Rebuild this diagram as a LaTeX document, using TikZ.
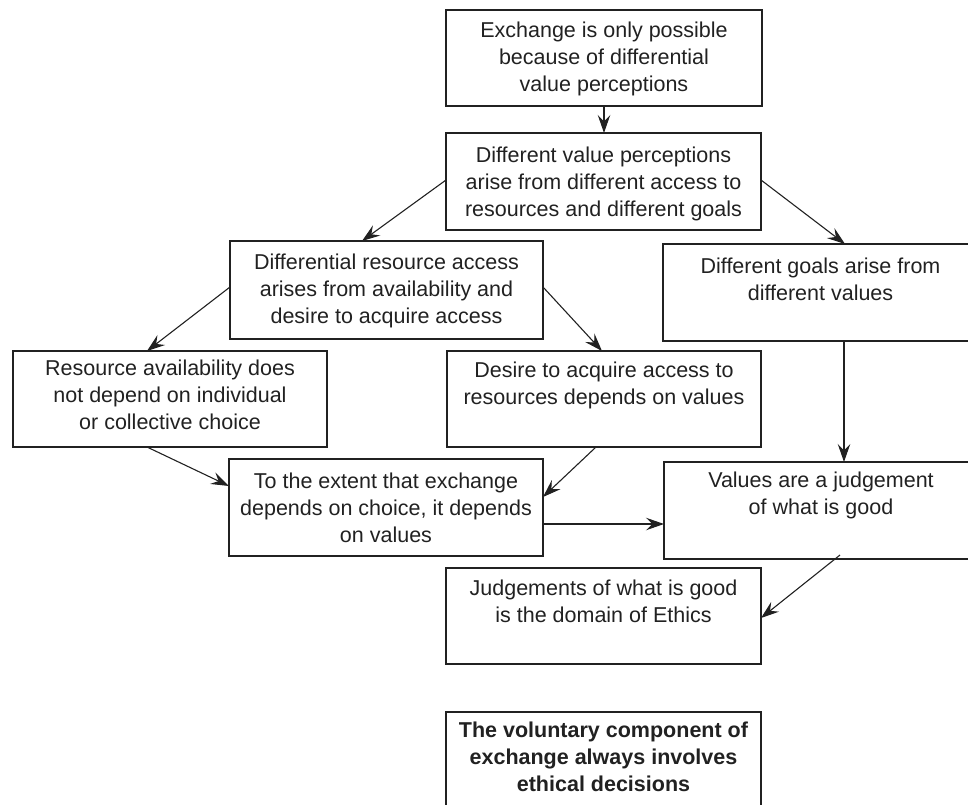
\documentclass[tikz,border=0pt]{standalone}
\usepackage{fontspec}
\setmainfont{Liberation Sans}
\usetikzlibrary{arrows.meta,calc}
\newcommand{\bxt}[4]{\parbox[c][#2pt][t]{#1pt}{\centering\rule{0pt}{#3pt}#4\par}}
\begin{document}
\begin{tikzpicture}[x=1pt,y=-1pt,
  box/.style={draw=black!87, text=black!87, line width=2.2pt, inner sep=0pt, outer sep=0pt},
  arr/.style={draw=black!87, line width=1.1pt, -{Stealth[length=18pt,width=12.5pt,inset=6.5pt]}},
  font=\fontsize{21.5pt}{27pt}\selectfont]
\clip (0,0) rectangle (968,804);
\node[box] (b1) at (604,58) {\bxt{316}{96}{27.5}{Exchange is only possible\\because of differential\\value perceptions}};
\node[box] (b2) at (603.5,181.5) {\bxt{315}{97}{29.5}{Different value perceptions\\arise from different access to\\resources and different goals}};
\node[box] (b3) at (386.5,290) {\bxt{313}{98}{28.5}{Differential resource access\\arises from availability and\\desire to acquire access}};
\node[box] (goals) at (820.5,292.5) {\bxt{315}{97}{29.5}{Different goals arise from\\different values}};
\node[box] (b4) at (170,399) {\bxt{314}{96}{24.5}{Resource availability does\\not depend on individual\\or collective choice}};
\node[box] (b5) at (604,399) {\bxt{314}{96}{26.5}{Desire to acquire access to\\resources depends on values}};
\node[box] (b6) at (386,507.5) {\bxt{314}{97}{29.5}{To the extent that exchange\\depends on choice, it depends\\on values}};
\node[box] (b7) at (821,510.5) {\bxt{314}{97}{25.5}{Values are a judgement\\of what is good}};
\node[box] (b8) at (603.5,616) {\bxt{315}{96}{27.5}{Judgements of what is good\\is the domain of Ethics}};
\node[box] (b9) at (603.5,760) {\bxt{315}{96}{25.5}{\bfseries The voluntary component of\\exchange always involves\\ethical decisions}};
\draw[arr] (b1.south) -- (b1.south |- b2.north);
\draw[arr] ($(b2.west)+(0,-1.5)$) -- ($(b3.north west)+(132,0)$);
\draw[arr] ($(b2.east)+(0,-1.5)$) -- ($(goals.north west)+(182,0)$);
\draw[arr] ($(b3.west)+(0,-3)$) -- ($(b4.north west)+(134,0)$);
\draw[arr] ($(b3.east)+(0,-3)$) -- ($(b5.north west)+(155,0)$);
\draw[arr] ($(goals.south west)+(181,0)$) -- ($(b7.north west)+(180,0)$);
\draw[arr] ($(b4.south west)+(134,0)$) -- ($(b6.north west)+(0,27)$);
\draw[arr] ($(b5.south west)+(149,0)$) -- ($(b6.north east)+(0,38)$);
\draw[arr] ($(b6.east)+(0,16.5)$) -- ($(b7.west)+(0,13.5)$);
\draw[arr] ($(b7.south west)+(176,-4)$) -- ($(b8.east)+(0,2)$);
\end{tikzpicture}
\end{document}
